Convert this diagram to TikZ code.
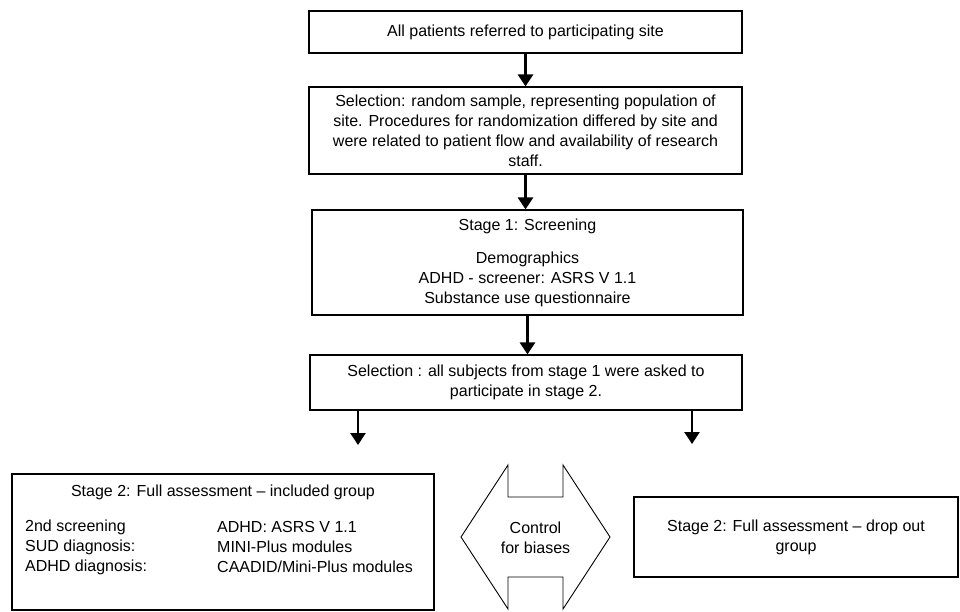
\documentclass[tikz,border=0pt]{standalone}
\usepackage{fontspec}
\setmainfont{Liberation Sans}
\usetikzlibrary{arrows.meta}
\begin{document}
\begin{tikzpicture}[x=1pt, y=-1pt,
  box/.style={draw, line width=1.1pt, inner sep=0pt, align=center},
  arr/.style={line width=2.6pt, -{Triangle[width=15pt,length=12pt]}},
  txt/.style={inner sep=0pt, align=left},
  font=\fontsize{16}{20}\selectfont]
\useasboundingbox (0,0) rectangle (960,611);
\node[box, minimum width=433pt, minimum height=42pt] (all) at (525.5,32) {All patients referred to participating site};
\node[box, minimum width=433pt, minimum height=87pt] (sel1) at (525.5,130.5) {Selection: random sample, representing population of\\site. Procedures for randomization differed by site and\\were related to patient flow and availability of research\\staff.};
\node[box, minimum width=431pt, minimum height=105pt] (stage1) at (527.5,262.5) {Stage 1: Screening\\[13pt]Demographics\\ADHD - screener: ASRS V 1.1\\Substance use questionnaire};
\node[box, minimum width=432pt, minimum height=55pt] (sel2) at (526,382.5) {Selection : all subjects from stage 1 were asked to\\participate in stage 2.};
\draw[arr] (all) -- (sel1);
\draw[arr] (sel1) -- (sel1 |- stage1.north);
\draw[arr] (stage1.south) -- (stage1.south |- sel2.north);
\coordinate (incEnd) at (358,445);
\coordinate (dropEnd) at (692,444);
\draw[arr] (incEnd |- sel2.south) -- (incEnd);
\draw[arr] (dropEnd |- sel2.south) -- (dropEnd);
% included group
\node[box, minimum width=422pt, minimum height=136pt] (incl) at (223,542) {};
\node[txt] (inclTitle) at (223,492) {Stage 2: Full assessment -- included group};
\node[txt, anchor=west] (inclLeft) at (25,547) {2nd screening\\SUD diagnosis:\\ADHD diagnosis:};
\node[txt, anchor=west] (inclRight) at (217,547) {ADHD: ASRS V 1.1\\MINI-Plus modules\\CAADID/Mini-Plus modules};
% control for biases
\draw[line width=0.9pt] (461,537) -- (508,465) -- (508,497) -- (563,497) -- (563,465) -- (610,537)
  -- (563,609) -- (563,577) -- (508,577) -- (508,609) -- cycle;
\node[txt, align=center] (bias) at (535.5,537.5) {Control\\for biases};
% drop out group
\node[box, minimum width=324pt, minimum height=80pt] (drop) at (796,537) {Stage 2: Full assessment -- drop out\\group};
\end{tikzpicture}
\end{document}
